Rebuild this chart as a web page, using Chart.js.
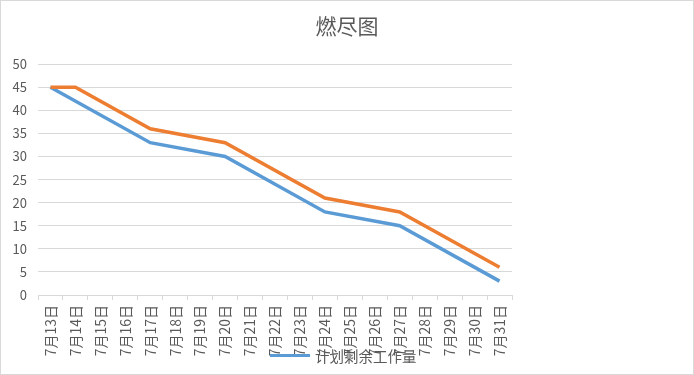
<!DOCTYPE html>
<html>
<head>
<meta charset="utf-8">
<script src="https://cdn.jsdelivr.net/npm/chart.js@4/dist/chart.umd.min.js"></script>
<style>
  body { margin: 0; background: #fff; }
  #wrap { position: relative; width: 694px; height: 375px; border: 1px solid #d9d9d9; box-sizing: border-box; }
  #legend { position: absolute; left: 269px; top: 344px; height: 20px; display: flex; align-items: center;
    font-family: "Noto Sans CJK SC", sans-serif; font-size: 14.5px; color: #595959; }
  #legend .swatch { width: 40px; height: 3px; background: #5b9bd5; margin-right: 5px; }
</style>
</head>
<body>
<div id="wrap">
  <canvas id="burnChart" width="692" height="373"></canvas>
  <div id="legend"><span class="swatch"></span><span>计划剩余工作量</span></div>
</div>
<script>
// categories
const days = ['7月13日', '7月14日', '7月15日', '7月16日', '7月17日', '7月18日', '7月19日', '7月20日',
    '7月21日', '7月22日', '7月23日', '7月24日', '7月25日', '7月26日', '7月27日', '7月28日',
    '7月29日', '7月30日', '7月31日'];

// planned remaining work (blue)
const planned = [45, null, null, null, 33, null, null, 30, null, null, null, 18, null, null, 15, null, null, null, 3];
// actual remaining work (orange)
const actual = [45, 45, null, null, 36, null, null, 33, null, null, null, 21, null, null, 18, null, null, null, 6];

const yTicks = [0, 5, 10, 15, 20, 25, 30, 35, 40, 45, 50];

const textColor = '#595959';
const gridColor = '#d9d9d9';
const fontFamily = '"Noto Sans CJK SC", "Liberation Sans", sans-serif';

const ctx = document.getElementById('burnChart').getContext('2d');
const burnChart = new Chart(ctx, {
    type: 'line',
    data: {
        labels: days,
        datasets: [{
            label: '实际剩余工作量',
            data: actual,
            borderColor: '#ed7d31',
            borderWidth: 3.5,
            pointRadius: 0,
            spanGaps: true,
            tension: 0
        }, {
            label: '计划剩余工作量',
            data: planned,
            borderColor: '#5b9bd5',
            borderWidth: 3.5,
            pointRadius: 0,
            spanGaps: true,
            tension: 0
        }]
    },
    options: {
        responsive: false,
        animation: false,
        layout: {
            padding: 0
        },
        plugins: {
            legend: { display: false },
            tooltip: { enabled: false },
            title: {
                display: true,
                text: '燃尽图',
                color: textColor,
                font: { family: fontFamily, size: 21, weight: 'normal' },
                padding: { top: 12, bottom: 26 }
            }
        },
        scales: {
            x: {
                offset: true,
                grid: {
                    offset: true,
                    drawOnChartArea: false,
                    drawTicks: true,
                    tickLength: 5,
                    color: gridColor
                },
                border: { color: gridColor },
                ticks: {
                    autoSkip: false,
                    minRotation: 90,
                    maxRotation: 90,
                    padding: 5,
                    color: textColor,
                    font: { family: fontFamily, size: 14 }
                },
                afterFit: (scale) => { scale.height = 79; }
            },
            y: {
                min: 0,
                max: 50,
                afterBuildTicks: (scale) => { scale.ticks = yTicks.map(v => ({ value: v })); },
                grid: { color: gridColor, drawTicks: false },
                border: { display: false },
                ticks: {
                    padding: 11,
                    color: textColor,
                    font: { family: fontFamily, size: 13 }
                },
                afterFit: (scale) => { scale.width = 37; }
            },
            // empty space on the right side of the plot
            spacer: {
                type: 'linear',
                position: 'right',
                grid: { display: false },
                border: { display: false },
                ticks: { display: false },
                afterFit: (scale) => { scale.width = 181; }
            }
        }
    }
});
</script>
</body>
</html>
